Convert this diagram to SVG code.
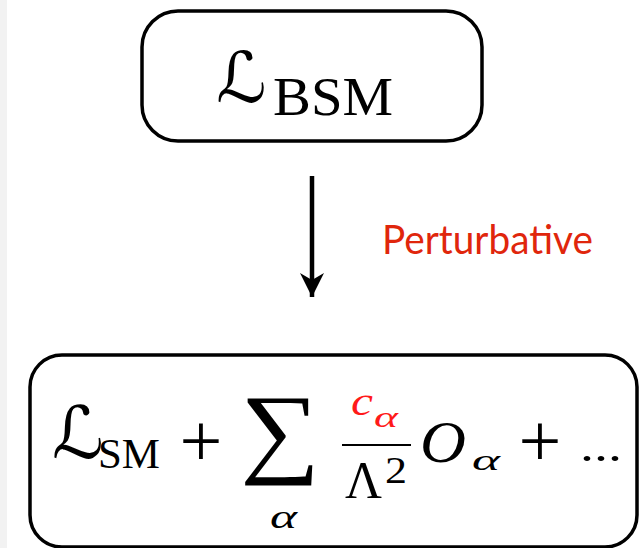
<svg xmlns="http://www.w3.org/2000/svg" width="640" height="548" viewBox="0 0 640 548">
<defs>
<marker id="ah" markerUnits="userSpaceOnUse" markerWidth="26" markerHeight="26" refX="24" refY="12" orient="auto" viewBox="0 0 26 26">
<path d="M0,0 L24,12 L0,24 L7,12 Z" fill="#000"/>
</marker>
<style>
.box{fill:#fff;stroke:#000;stroke-width:3.5}
.m{font-family:"Liberation Serif","Times New Roman",serif;fill:#000}
.i{font-style:italic}
.red{fill:#ff1a1a}
.scr{font-family:"DejaVu Serif","DejaVu Sans",serif;font-style:italic;fill:#000}
.lbl{font-family:Lato,"Open Sans",sans-serif;fill:#e0260c}
</style>
</defs>
<rect x="0" y="0" width="640" height="548" fill="#fff"/>
<rect x="0" y="0" width="7" height="548" fill="#f2f2f2"/>
<g id="bsm">
<rect class="box" x="142" y="11" width="340" height="130" rx="36"/>
<text class="scr" x="216" y="102" font-size="70">ℒ</text>
<text class="m" x="273" y="115" font-size="54" textLength="120" lengthAdjust="spacingAndGlyphs">BSM</text>
</g>
<g id="connectors">
<line x1="312" y1="176" x2="312" y2="297" stroke="#000" stroke-width="4.5" marker-end="url(#ah)"/>
<text class="lbl" x="382" y="254" font-size="40" textLength="211" lengthAdjust="spacingAndGlyphs">Perturbative</text>
</g>
<g id="eft">
<rect class="box" x="30" y="355" width="607" height="192" rx="32"/>
<text class="scr" x="52" y="458" font-size="72">ℒ</text>
<text class="m" x="98" y="468" font-size="42" textLength="62" lengthAdjust="spacingAndGlyphs">SM</text>
<text class="m" x="201" y="466" font-size="76" text-anchor="middle">+</text>
<text class="m" x="240" y="464" font-size="100" textLength="80" lengthAdjust="spacingAndGlyphs">∑</text>
<text class="m i" x="270" y="528" font-size="34" textLength="27" lengthAdjust="spacingAndGlyphs">α</text>
<text class="m i red" x="351" y="415" font-size="40" textLength="22" lengthAdjust="spacingAndGlyphs">c</text>
<text class="m i red" x="374" y="427" font-size="30" textLength="24" lengthAdjust="spacingAndGlyphs">α</text>
<line x1="342" y1="445" x2="411" y2="445" stroke="#000" stroke-width="2.2"/>
<text class="m" x="345" y="498" font-size="53" textLength="37" lengthAdjust="spacingAndGlyphs">Λ</text>
<text class="m" x="385" y="483" font-size="37" textLength="22" lengthAdjust="spacingAndGlyphs">2</text>
<text class="m i" x="420" y="462" font-size="60" textLength="46" lengthAdjust="spacingAndGlyphs">O</text>
<text class="m i" x="472" y="470" font-size="30" textLength="28" lengthAdjust="spacingAndGlyphs">α</text>
<text class="m" x="540" y="466" font-size="76" text-anchor="middle">+</text>
<text class="m" x="580" y="461" font-size="42" textLength="42" lengthAdjust="spacingAndGlyphs">...</text>
</g>
</svg>
